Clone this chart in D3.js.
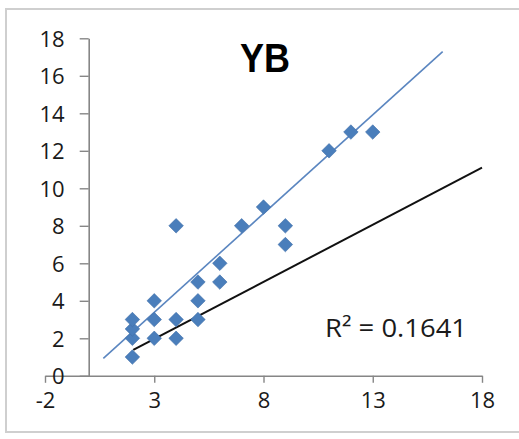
<!DOCTYPE html>
<html>
<head>
<meta charset="utf-8">
<script src="https://cdn.jsdelivr.net/npm/d3@7"></script>
<style>
  html, body { margin: 0; padding: 0; background: #fff; }
  svg { display: block; }
  .tick text { font-family: "Open Sans", "Liberation Sans", sans-serif; font-size: 22px; fill: #1a1a1a; }
</style>
</head>
<body>
<svg id="chart" width="519" height="439"></svg>
<script>
// Observed pairs for YB
const xValues = [2, 2, 2, 2, 3, 3, 3, 4, 4, 4, 5, 5, 5, 6, 6, 7, 8, 9, 9, 11, 12, 13];
const yValues = [1, 2, 2.5, 3, 2, 3, 4, 2, 3, 8, 3, 4, 5, 5, 6, 8, 9, 8, 7, 12, 13, 13];

// Fitted trend line (blue) and reference line (black), as end points in data units
const fitLineX = [0.67, 16.2];
const fitLineY = [0.93, 17.29];
const refLineX = [2.04, 18];
const refLineY = [1.38, 11.1];

// Axis ticks
const xTicks = [-2, 3, 8, 13, 18];
const yTicks = [0, 2, 4, 6, 8, 10, 12, 14, 16, 18];

const chartTitle = "YB";
const rSquaredLabel = "R\u00B2 = 0.1641";

const svg = d3.select("#chart");

// Chart frame
svg.append("rect")
  .attr("x", 6).attr("y", 9)
  .attr("width", 530).attr("height", 423)
  .attr("fill", "#fff")
  .attr("stroke", "#cfcfcf")
  .attr("stroke-width", 2);

const x = d3.scaleLinear().domain([-2, 18]).range([45, 482]);
const y = d3.scaleLinear().domain([0, 18]).range([375.8, 38.3]);

const axisColor = "#868686";
const plainNumber = d => String(d);   // hyphen-minus, as in spreadsheet output

// Horizontal axis, crossing at y = 0
const gx = svg.append("g")
  .attr("transform", `translate(0,${y(0)})`)
  .call(d3.axisBottom(x).tickValues(xTicks).tickFormat(plainNumber)
    .tickSize(7).tickSizeOuter(0).tickPadding(10));

// Vertical axis, crossing at x = 0
const gy = svg.append("g")
  .attr("transform", `translate(${x(0)},0)`)
  .call(d3.axisLeft(y).tickValues(yTicks).tickFormat(plainNumber)
    .tickSize(9).tickSizeOuter(0).tickPadding(15));

[gx, gy].forEach(g => {
  g.select(".domain").attr("stroke", axisColor).attr("stroke-width", 1.6);
  g.selectAll(".tick line").attr("stroke", axisColor).attr("stroke-width", 1.4);
  g.selectAll(".tick text").attr("fill", "#1a1a1a");
});
gy.selectAll(".tick text").attr("dy", "0.36em");

// Trend lines
const line = d3.line().x(d => x(d[0])).y(d => y(d[1]));

svg.append("path")
  .datum(d3.zip(refLineX, refLineY))
  .attr("d", line)
  .attr("fill", "none")
  .attr("stroke", "#111")
  .attr("stroke-width", 2);

svg.append("path")
  .datum(d3.zip(fitLineX, fitLineY))
  .attr("d", line)
  .attr("fill", "none")
  .attr("stroke", "#5b86c0")
  .attr("stroke-width", 1.6);

// Diamond markers
const diamond = d3.symbol().type(d3.symbolDiamond2).size(135);
svg.append("g")
  .selectAll("path")
  .data(d3.zip(xValues, yValues))
  .join("path")
  .attr("d", diamond)
  .attr("transform", d => `translate(${x(d[0])},${y(d[1])})`)
  .attr("fill", "#4a7ebb")
  .attr("stroke", "#3f6fa8")
  .attr("stroke-width", 0.6);

// Title
svg.append("text")
  .attr("x", 265).attr("y", 72)
  .attr("text-anchor", "middle")
  .attr("font-family", "'Liberation Sans', Arial, sans-serif")
  .attr("font-weight", "bold")
  .attr("font-size", 40)
  .attr("textLength", 50)
  .attr("lengthAdjust", "spacingAndGlyphs")
  .attr("fill", "#000")
  .text(chartTitle);

// R-squared annotation
svg.append("text")
  .attr("x", 325).attr("y", 337)
  .attr("font-family", "'Open Sans', 'Liberation Sans', sans-serif")
  .attr("font-size", 25)
  .attr("textLength", 142)
  .attr("lengthAdjust", "spacingAndGlyphs")
  .attr("fill", "#1a1a1a")
  .text(rSquaredLabel);
</script>
</body>
</html>
